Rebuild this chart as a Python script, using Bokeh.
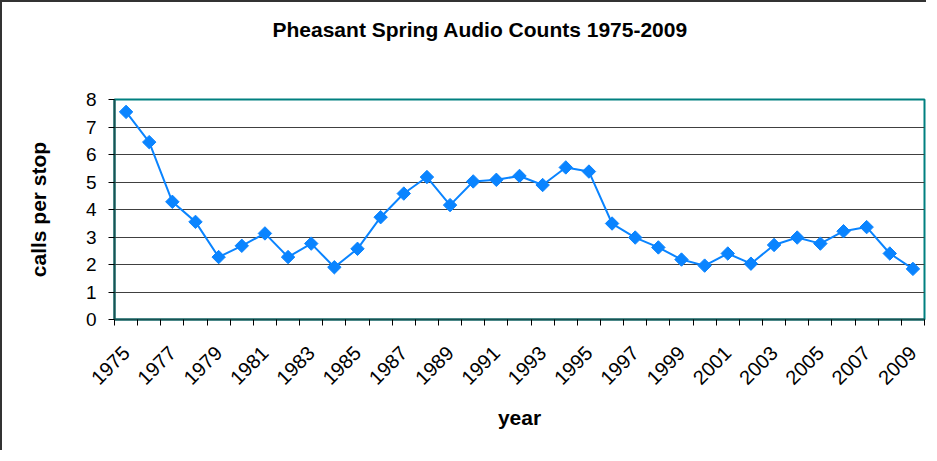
import math
from bokeh.plotting import figure
from bokeh.models import Range1d, FixedTicker, CustomJSTickFormatter, Title
from bokeh.embed import file_html
from bokeh.resources import INLINE

years = [1975, 1976, 1977, 1978, 1979, 1980, 1981, 1982, 1983, 1984,
         1985, 1986, 1987, 1988, 1989, 1990, 1991, 1992, 1993, 1994,
         1995, 1996, 1997, 1998, 1999, 2000, 2001, 2002, 2003, 2004,
         2005, 2006, 2007, 2008, 2009]
calls_per_stop = [7.55, 6.45, 4.28, 3.55, 2.27, 2.68, 3.13, 2.27, 2.76, 1.90,
                  2.57, 3.72, 4.58, 5.18, 4.16, 5.02, 5.08, 5.22, 4.89, 5.53,
                  5.38, 3.49, 2.98, 2.62, 2.18, 1.96, 2.40, 2.03, 2.71, 2.98,
                  2.76, 3.21, 3.36, 2.40, 1.84]
label_years = [1975, 1977, 1979, 1981, 1983, 1985, 1987, 1989, 1991, 1993,
               1995, 1997, 1999, 2001, 2003, 2005, 2007, 2009]
y_ticks = [0, 1, 2, 3, 4, 5, 6, 7, 8]
title_text = "Pheasant Spring Audio Counts 1975-2009"

FONT = "Liberation Sans"

p = figure(width=926, height=450, output_backend="svg", toolbar_location=None,
           title=None,
           x_range=Range1d(years[0] - 0.5, years[-1] + 0.5),
           y_range=Range1d(y_ticks[0], y_ticks[-1]),
           min_border_left=112, min_border_right=4, min_border_top=97,
           min_border_bottom=133,
           background_fill_color="white", border_fill_color="white",
           styles={"border-left": "2px solid #333333", "border-top": "2px solid #333333"})

# spacer (nearest the frame), then the real title above it
spacer = Title(text=" ", text_font_size="1px", standoff=46)
p.add_layout(spacer, "above")
main_title = Title(text=title_text, align="left", offset=158, standoff=20,
                   text_font=FONT, text_font_style="bold", text_font_size="21px",
                   text_color="black")
p.add_layout(main_title, "above")

p.outline_line_color = "#008080"
p.outline_line_width = 2

# x axis
xa = p.xaxis[0]
xa.ticker = FixedTicker(ticks=label_years,
                        minor_ticks=[y - 0.5 for y in years] + [years[-1] + 0.5])
xa.formatter = CustomJSTickFormatter(code="return tick.toFixed(0);")
xa.major_tick_out = 0
xa.major_tick_in = 0
xa.minor_tick_out = 6
xa.minor_tick_in = 0
xa.minor_tick_line_color = "black"
xa.axis_line_color = "#1a5252"
xa.axis_line_width = 2
xa.major_label_orientation = math.pi / 4
xa.major_label_text_font = FONT
xa.major_label_text_font_size = "20px"
xa.major_label_text_color = "black"
xa.major_label_standoff = 24
xa.axis_label = "year"
xa.axis_label_text_font = FONT
xa.axis_label_text_font_style = "bold"
xa.axis_label_text_font_size = "21px"
xa.axis_label_text_color = "black"
xa.axis_label_standoff = 12

# y axis
ya = p.yaxis[0]
ya.ticker = FixedTicker(ticks=y_ticks)
ya.major_tick_out = 6
ya.major_tick_in = 0
ya.major_tick_line_color = "black"
ya.minor_tick_line_color = None
ya.axis_line_color = "#1a5252"
ya.axis_line_width = 2
ya.major_label_text_font = FONT
ya.major_label_text_font_size = "19px"
ya.major_label_text_color = "black"
ya.major_label_standoff = 12
ya.axis_label = "calls per stop"
ya.axis_label_text_font = FONT
ya.axis_label_text_font_style = "bold"
ya.axis_label_text_font_size = "21px"
ya.axis_label_text_color = "black"
ya.axis_label_standoff = 33

p.xgrid.grid_line_color = None
p.ygrid.grid_line_color = "#404040"
p.ygrid.grid_line_width = 1

p.line(years, calls_per_stop, line_color="#0a84ff", line_width=2)
p.scatter(years, calls_per_stop, marker="square", angle=math.pi / 4, size=9.5,
          fill_color="#0a84ff", line_color="#0a84ff")

open("out.html", "w").write(file_html(p, INLINE))
